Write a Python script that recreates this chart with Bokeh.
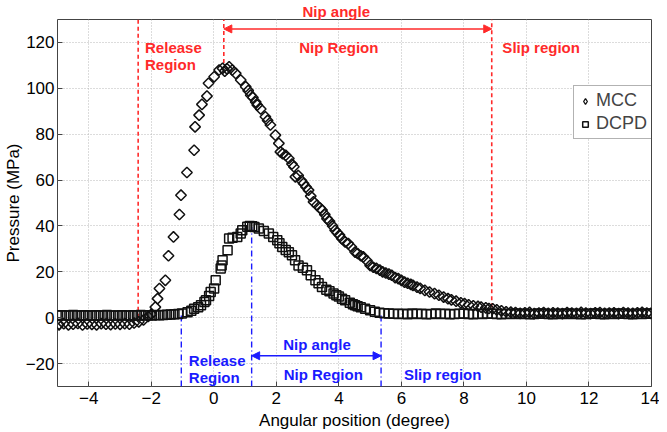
import math
from bokeh.plotting import figure
from bokeh.models import (Label, Arrow, NormalHead, Legend, LegendItem,
                          FixedTicker, Range1d)
from bokeh.embed import file_html
from bokeh.resources import INLINE

FONT = "Liberation Sans"
RED = "#ff2a2a"
BLUE = "#1a1aff"

# ---------------- data ----------------
x_ticks = [-4, -2, 0, 2, 4, 6, 8, 10, 12, 14]
y_ticks = [-20, 0, 20, 40, 60, 80, 100, 120]

mcc_angle = [
    -4.95, -4.8, -4.65, -4.5, -4.35, -4.2, -4.05, -3.9, -3.75, -3.6,
    -3.45, -3.3, -3.15, -3.0, -2.85, -2.7, -2.55, -2.4, -2.25,
    -2.1, -2.0, -1.87, -1.8, -1.74, -1.55, -1.45, -1.29, -1.1, -1.05,
    -0.86, -0.63, -0.6, -0.47, -0.38, -0.22, -0.17, 0.01, 0.17, 0.28,
    0.35, 0.42, 0.49, 0.59, 0.7, 0.86, 1.02, 1.1, 1.18, 1.25,
    1.34, 1.39, 1.5, 1.65, 1.72, 1.81, 1.97, 2.08, 2.13, 2.2,
    2.3, 2.4, 2.5, 2.56, 2.61, 2.7, 2.8, 2.87, 2.95, 3.03,
    3.1, 3.19, 3.3, 3.4, 3.46, 3.55, 3.62, 3.7, 3.8, 3.88,
    3.95, 4.02, 4.09, 4.2, 4.3, 4.4, 4.52, 4.6, 4.7, 4.78,
    4.9, 5.0, 5.1, 5.2, 5.31, 5.4, 5.5, 5.6, 5.69, 5.8,
    5.9, 6.0, 6.1, 6.2, 6.3, 6.37, 6.5, 6.6, 6.75, 6.9,
    7.06, 7.2, 7.35, 7.49, 7.6, 7.75, 7.9, 8.02, 8.15, 8.3,
    8.45, 8.55, 8.7, 8.8, 8.92, 9.05, 9.2, 9.35, 9.5,
    9.65, 9.8, 9.95, 10.1, 10.25, 10.4, 10.55, 10.7, 10.85, 11.0,
    11.15, 11.3, 11.45, 11.6, 11.75, 11.9, 12.05, 12.2, 12.35, 12.5,
    12.65, 12.8, 12.95, 13.1, 13.25, 13.4, 13.55, 13.7, 13.85, 13.98,
]
mcc_pressure = [
    -3.0, -2.6, -3.1, -2.8, -2.5, -3.2, -2.7, -2.9, -3.1, -2.6,
    -2.8, -3.0, -2.7, -2.9, -2.6, -2.8, -2.3, -1.8, -1.0,
    0.5, 1.5, 4.6, 8.3, 12.7, 16.3, 27.0, 35.2, 45.0, 53.4,
    63.3, 73.0, 83.2, 88.3, 93.0, 96.6, 102.2, 105.0, 108.0, 108.7,
    107.5, 108.5, 109.4, 108.0, 106.5, 103.6, 100.7, 99.0, 97.0, 96.0,
    94.0, 92.7, 91.0, 87.6, 86.0, 84.0, 79.6, 76.0, 72.3, 71.5,
    70.8, 69.4, 67.0, 65.8, 61.4, 62.0, 59.8, 58.5, 57.0, 55.6,
    53.0, 50.5, 49.0, 47.8, 46.9, 45.0, 43.2, 42.0, 40.0, 38.1,
    37.0, 36.0, 34.5, 33.0, 32.3, 30.8, 28.6, 28.0, 27.0, 26.5,
    24.8, 22.8, 22.0, 21.5, 20.7, 20.0, 19.5, 19.0, 18.5, 17.5,
    17.0, 16.3, 15.5, 15.0, 14.5, 14.1, 13.3, 12.8, 11.9, 11.2,
    10.5, 9.8, 9.0, 8.3, 7.8, 7.2, 6.5, 6.1, 5.6, 5.2,
    4.9, 4.6, 4.3, 4.0, 3.9, 3.4, 3.0, 2.6, 2.4,
    2.2, 1.9, 2.1, 2.3, 1.8, 2.0, 2.2, 1.9, 2.1, 2.0,
    1.8, 2.2, 2.0, 1.9, 2.3, 2.0, 1.8, 2.1, 2.2, 1.9,
    2.0, 2.1, 1.8, 2.2, 2.0, 1.9, 2.1, 2.3, 2.0, 1.9,
]

dcpd_angle = [
    -4.98, -4.86, -4.74, -4.62, -4.5, -4.38, -4.26, -4.14, -4.02, -3.9,
    -3.78, -3.66, -3.54, -3.42, -3.3, -3.18, -3.06, -2.94, -2.82, -2.7,
    -2.58, -2.46, -2.34, -2.22, -2.1, -1.98, -1.86, -1.74, -1.62, -1.5,
    -1.38, -1.26, -1.14, -1.02,
    -0.84, -0.72, -0.63, -0.5, -0.41, -0.3, -0.25, -0.15, -0.1, 0.01,
    0.06, 0.22, 0.25, 0.28, 0.44, 0.49, 0.6, 0.75, 0.86, 0.91,
    1.07, 1.15, 1.23, 1.3, 1.44, 1.6, 1.76, 1.9, 2.03, 2.1,
    2.19, 2.3, 2.4, 2.5, 2.6, 2.71, 2.85, 2.98, 3.1, 3.25,
    3.35, 3.46, 3.6, 3.7, 3.83, 3.92, 4.0, 4.1, 4.2, 4.35,
    4.45, 4.52, 4.6, 4.7, 4.84, 5.0, 5.15, 5.3, 5.45, 5.6,
    5.75, 5.9, 6.05, 6.2, 6.35, 6.5, 6.65, 6.8, 6.95, 7.1,
    7.25, 7.4, 7.55, 7.7, 7.85, 8.0, 8.15, 8.3, 8.45, 8.6,
    8.75, 8.9, 9.05, 9.2, 9.35, 9.5, 9.65, 9.8, 9.95, 10.1,
    10.25, 10.4, 10.55, 10.7, 10.85, 11.0, 11.15, 11.3, 11.45, 11.6,
    11.75, 11.9, 12.05, 12.2, 12.35, 12.5, 12.65, 12.8, 12.95, 13.1,
    13.25, 13.4, 13.55, 13.7, 13.85, 13.98,
]
dcpd_pressure = [
    1.0, 1.1, 0.9, 1.0, 1.2, 1.0, 0.9, 1.1, 1.0, 1.0,
    1.1, 0.9, 1.0, 1.2, 1.0, 1.0, 0.9, 1.1, 1.0, 1.0,
    1.1, 1.0, 1.2, 1.0, 1.1, 1.0, 1.2, 1.1, 1.2, 1.3,
    1.4, 1.5, 1.6, 1.8,
    2.4, 3.0, 3.9, 4.5, 5.4, 6.8, 7.6, 9.5, 11.2, 12.7,
    16.3, 21.4, 22.8, 25.0, 29.4, 34.5, 34.8, 35.2, 36.7, 38.1,
    39.6, 40.0, 39.9, 39.5, 38.9, 37.8, 36.7, 35.2, 33.8, 32.5,
    30.8, 29.5, 28.5, 27.2, 25.0, 22.8, 21.8, 20.7, 18.5, 16.3,
    15.0, 13.4, 12.2, 11.5, 10.5, 9.8, 9.2, 8.3, 7.6, 6.5,
    5.9, 5.4, 5.0, 4.6, 3.9, 3.2, 2.6, 2.2, 1.9, 1.8,
    1.7, 1.6, 1.7, 1.5, 1.8, 1.6, 1.7, 1.5, 1.6, 1.8,
    1.6, 1.7, 1.5, 1.6, 1.7, 1.8, 1.6, 1.5, 1.7, 1.6,
    1.8, 1.7, 1.6, 1.5, 1.7, 1.6, 1.8, 1.6, 1.7, 1.5,
    1.6, 1.8, 1.7, 1.6, 1.5, 1.7, 1.6, 1.8, 1.6, 1.7,
    1.5, 1.6, 1.7, 1.8, 1.6, 1.5, 1.7, 1.6, 1.8, 1.7,
    1.6, 1.5, 1.7, 1.6, 1.8, 1.7,
]

# region boundaries (angle, lower/upper pressure of the marker line)
red_angle = [-2.42, 0.32, 8.89]
red_from = [0.0, 111.0, 4.5]
red_to = [130.0, 130.0, 130.0]
blue_angle = [-1.04, 1.21, 5.35]
blue_from = [-30.0, -30.0, -30.0]
blue_to = [1.5, 39.5, 2.0]

red_arrow_y = 125.9
blue_arrow_y = -16.6

# ---------------- figure ----------------
p = figure(width=659, height=432, output_backend="svg", toolbar_location=None,
           x_range=Range1d(-5, 14), y_range=Range1d(-30, 130),
           min_border_left=53, min_border_right=8, min_border_top=19,
           min_border_bottom=46, background_fill_color="white",
           border_fill_color="white")

# red "Nip angle" sits above the frame -> use the figure title slot
p.title.text = "Nip angle"
p.title.align = "left"
p.title.offset = 245
p.title.standoff = 0
p.title.vertical_align = "bottom"
p.title.text_font = FONT
p.title.text_font_size = "15px"
p.title.text_font_style = "bold"
p.title.text_color = RED

p.outline_line_color = "#444444"
p.outline_line_width = 1

for ax in (p.xaxis[0], p.yaxis[0]):
    ax.axis_line_color = None
    ax.major_tick_in = 5
    ax.major_tick_out = 0
    ax.major_tick_line_color = "#444444"
    ax.minor_tick_line_color = None
    ax.major_label_text_font = FONT
    ax.major_label_text_font_size = "17px"
    ax.major_label_text_color = "black"
    ax.axis_label_text_font = FONT
    ax.axis_label_text_font_size = "17px"
    ax.axis_label_text_font_style = "normal"
    ax.axis_label_text_color = "black"

p.xaxis.major_label_standoff = 5
p.xaxis.axis_label_standoff = 4
p.yaxis.major_label_standoff = 3
p.yaxis.axis_label_standoff = 0

p.xaxis.ticker = FixedTicker(ticks=x_ticks)
p.yaxis.ticker = FixedTicker(ticks=y_ticks)
p.xaxis.axis_label = "Angular position (degree)"
p.yaxis.axis_label = "Pressure (MPa)"

for g in (p.xgrid[0], p.ygrid[0]):
    g.grid_line_color = "#b8b8b8"
    g.grid_line_dash = "1 2"
    g.grid_line_width = 1

# region lines
p.segment(x0=red_angle, y0=red_from, x1=red_angle, y1=red_to,
          line_color=RED, line_width=1.6, line_dash="4 3")
p.segment(x0=blue_angle, y0=blue_from, x1=blue_angle, y1=blue_to,
          line_color=BLUE, line_width=1.4, line_dash="6 3 1 3")

# data
r_mcc = p.scatter(mcc_angle, mcc_pressure, marker="square", size=7.5,
                  angle=math.pi / 4,
                  fill_color=None, line_color="#111111", line_width=1.5)
r_dcpd = p.scatter(dcpd_angle, dcpd_pressure, marker="square", size=9,
                   fill_color=None, line_color="#111111", line_width=1.5)
# legend swatch for MCC (first MCC point drawn as a diamond)
r_mcc_key = p.scatter(mcc_angle[:1], mcc_pressure[:1], marker="diamond",
                      size=11, fill_color=None, line_color="#111111",
                      line_width=1.3)

# arrows
p.add_layout(Arrow(start=NormalHead(size=8, fill_color=RED, line_color=RED),
                   end=NormalHead(size=8, fill_color=RED, line_color=RED),
                   x_start=red_angle[1], y_start=red_arrow_y,
                   x_end=red_angle[2], y_end=red_arrow_y,
                   line_color=RED, line_width=1.5))
p.add_layout(Arrow(start=NormalHead(size=8, fill_color=BLUE, line_color=BLUE),
                   end=NormalHead(size=8, fill_color=BLUE, line_color=BLUE),
                   x_start=blue_angle[1], y_start=blue_arrow_y,
                   x_end=blue_angle[2], y_end=blue_arrow_y,
                   line_color=BLUE, line_width=1.5))


def lab(x, y, t, c, align="left"):
    p.add_layout(Label(x=x, y=y, text=t, text_color=c, text_font=FONT,
                       text_font_size="15px", text_font_style="bold",
                       text_align=align, text_baseline="middle"))


lab(4.0, 117.6, "Nip Region", RED, "center")
lab(-2.2, 117.6, "Release", RED)
lab(-2.2, 110.2, "Region", RED)
lab(9.23, 117.6, "Slip region", RED)

lab(3.3, -11.7, "Nip angle", BLUE, "center")
lab(3.5, -24.8, "Nip Region", BLUE, "center")
lab(-0.8, -18.6, "Release", BLUE)
lab(-0.8, -26.0, "Region", BLUE)
lab(6.08, -24.8, "Slip region", BLUE)

legend = Legend(items=[LegendItem(label="MCC", renderers=[r_mcc_key]),
                       LegendItem(label="DCPD", renderers=[r_dcpd])],
                location=(516, 247))
legend.label_text_font = FONT
legend.label_text_font_size = "18px"
legend.label_height = 18
legend.glyph_height = 18
legend.glyph_width = 14
legend.label_standoff = 4
legend.padding = 4
legend.spacing = 2
legend.margin = 0
legend.border_line_color = "#666666"
legend.background_fill_color = "white"
legend.background_fill_alpha = 1
p.add_layout(legend)

open("out.html", "w").write(file_html(p, INLINE))
